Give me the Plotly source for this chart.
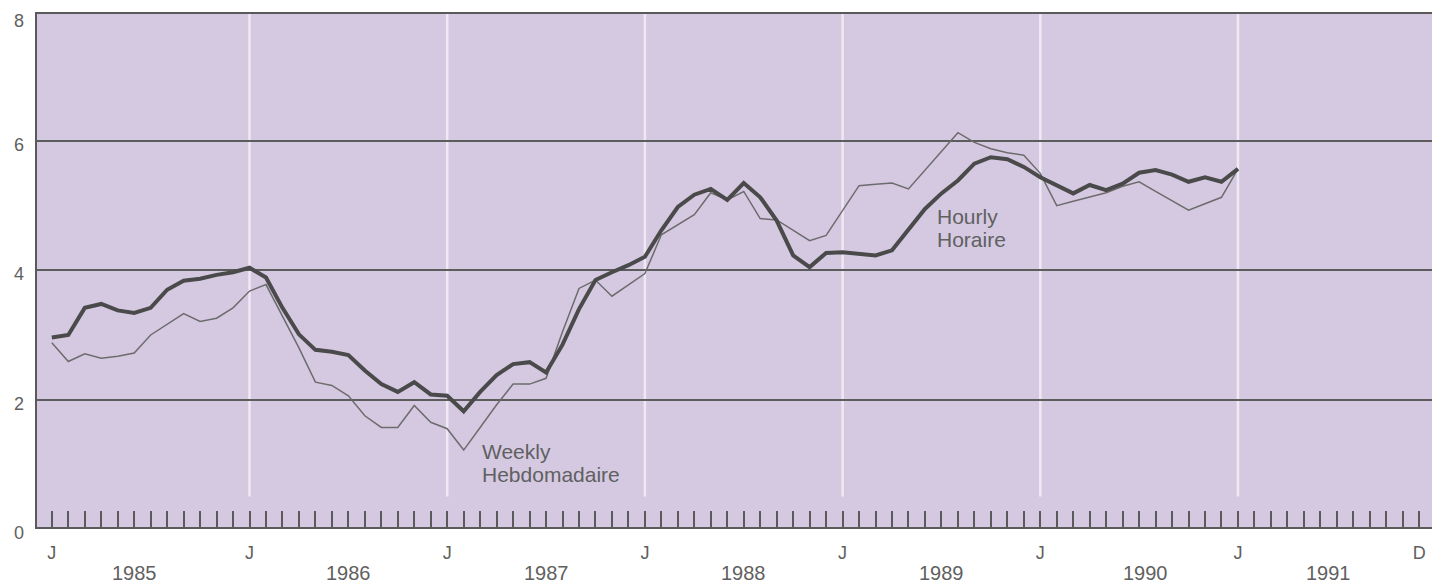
import plotly.graph_objects as go

# Monthly observations, Jan 1985 (index 0) .. Jan 1991 (index 72)
hourly = [2.96, 3.00, 3.42, 3.48, 3.38, 3.34, 3.42, 3.70, 3.84, 3.87, 3.93, 3.97,
          4.04, 3.89, 3.42, 3.01, 2.77, 2.74, 2.69, 2.45, 2.24, 2.12, 2.27, 2.08,
          2.06, 1.82, 2.12, 2.38, 2.55, 2.58, 2.42, 2.85, 3.40, 3.85, 3.97, 4.08,
          4.21, 4.62, 4.98, 5.17, 5.26, 5.09, 5.35, 5.13, 4.77, 4.23, 4.05, 4.27,
          4.28, 4.26, 4.23, 4.31, 4.62, 4.95, 5.19, 5.39, 5.65, 5.75, 5.72, 5.60,
          5.44, 5.32, 5.19, 5.32, 5.24, 5.34, 5.51, 5.55, 5.48, 5.37, 5.44, 5.37,
          5.57]
weekly = [2.88, 2.59, 2.71, 2.64, 2.67, 2.72, 3.00, 3.17, 3.33, 3.21, 3.26, 3.42,
          3.68, 3.78, 3.28, 2.80, 2.27, 2.22, 2.06, 1.75, 1.57, 1.57, 1.91, 1.65,
          1.55, 1.22, 1.57, 1.92, 2.24, 2.24, 2.33, 3.05, 3.72, 3.85, 3.60, 3.78,
          3.95, 4.55, 4.70, 4.86, 5.20, 5.09, 5.22, 4.80, 4.78, 4.62, 4.46, 4.54,
          4.93, 5.31, 5.33, 5.35, 5.26, 5.55, 5.84, 6.13, 5.98, 5.88, 5.82, 5.78,
          5.50, 5.00, 5.07, 5.13, 5.20, 5.30, 5.37, 5.22, 5.07, 4.93, 5.03, 5.13,
          5.57]
months = list(range(len(hourly)))

# axis labels
x_tick_vals = [0, 12, 24, 36, 48, 60, 72, 83]
x_tick_text = ["J", "J", "J", "J", "J", "J", "J", "D"]
year_labels = ["1985", "1986", "1987", "1988", "1989", "1990", "1991"]
year_label_pos = [5.0, 18.0, 30.0, 42.0, 54.0, 66.4, 77.5]
year_starts = [12, 24, 36, 48, 60, 72]
y_tick_vals = [0, 2, 4, 6, 8]
y_grid_vals = [2, 4, 6]

# series labels: (text, x month, y value)
series_labels = [("Weekly", 26.0, 1.20), ("Hebdomadaire", 26.0, 0.84),
                 ("Hourly", 53.6, 4.84), ("Horaire", 53.6, 4.48)]

Y_RANGE = [0.03, 7.965]
TXT = "#606060"
FONT = "Liberation Sans, Arial, sans-serif"

fig = go.Figure()
fig.add_trace(go.Scatter(x=months, y=weekly, mode="lines",
                         line=dict(color="#6c6c6c", width=1.5), name="Weekly"))
fig.add_trace(go.Scatter(x=months, y=hourly, mode="lines",
                         line=dict(color="#4a4a4a", width=4), name="Hourly"))

# white vertical year separators (below grid)
for xs in year_starts:
    fig.add_shape(type="line", x0=xs, x1=xs, y0=0.5, y1=Y_RANGE[1], xref="x", yref="y",
                  line=dict(color="#efe9f4", width=2.5), layer="below")

ann = []
for v in y_tick_vals:
    ann.append(dict(x=0, xref="paper",
                    y=(v - Y_RANGE[0]) / (Y_RANGE[1] - Y_RANGE[0]), yref="paper",
                    text=str(v), showarrow=False, borderpad=0,
                    xanchor="right", yanchor="middle", xshift=-12,
                    yshift=(-9 if v == 8 else -4),
                    font=dict(size=18, color=TXT, family=FONT)))
for lab, pos in zip(year_labels, year_label_pos):
    ann.append(dict(x=pos, xref="x", y=0, yref="paper", text=lab, showarrow=False,
                    xanchor="center", yanchor="middle", yshift=-46,
                    font=dict(size=20, color=TXT, family=FONT)))
for txt, sx, sy in series_labels:
    ann.append(dict(x=sx, xref="x", y=sy, yref="y", text=txt,
                    showarrow=False, xanchor="left", yanchor="middle", align="left",
                    font=dict(size=21, color=TXT, family=FONT)))

fig.update_layout(
    width=1432, height=576,
    margin=dict(l=29, r=5, t=4, b=57),
    paper_bgcolor="white", plot_bgcolor="#d5c9e2",
    showlegend=False,
    annotations=ann,
    xaxis=dict(range=[-0.9, 83.9], tickvals=x_tick_vals, ticktext=x_tick_text,
               ticks="inside", ticklen=16, tickwidth=2, tickcolor="#5a5a5a",
               showgrid=False, zeroline=False,
               showline=True, linecolor="#5a5a5a", linewidth=2, mirror=True,
               tickfont=dict(size=18, color=TXT, family=FONT),
               ticklabelstandoff=8,
               minor=dict(dtick=1, tick0=0, ticks="inside", ticklen=16,
                          tickwidth=2, tickcolor="#5a5a5a", showgrid=False)),
    yaxis=dict(range=Y_RANGE, tickvals=y_grid_vals, showticklabels=False,
               ticks="", showgrid=True, gridcolor="#5c5c5c", gridwidth=2,
               zeroline=False, showline=True, linecolor="#5a5a5a", linewidth=2,
               mirror=True),
)

fig.write_html("out.html")
